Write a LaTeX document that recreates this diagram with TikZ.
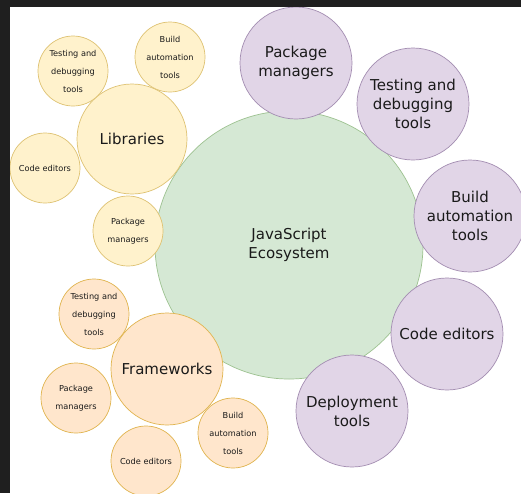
\documentclass[tikz,border=0pt]{standalone}
\usepackage{fontspec}
\setmainfont{DejaVu Sans}
\definecolor{bandc}{HTML}{1F1F1F}
\definecolor{txt}{HTML}{1A1A1A}
\definecolor{gfill}{HTML}{D5E8D4}\definecolor{gline}{HTML}{9DC290}
\definecolor{pfill}{HTML}{E1D5E7}\definecolor{pline}{HTML}{A38DB1}
\definecolor{yfill}{HTML}{FFF2CC}\definecolor{yline}{HTML}{DEC272}
\definecolor{ofill}{HTML}{FFE6CC}\definecolor{oline}{HTML}{E0B44E}
\tikzset{
  bub/.style={circle, inner sep=0pt, align=center, text=txt, line width=0.7pt},
  bigtext/.style={font=\fontsize{15}{19}\selectfont},
  smalltext/.style={font=\fontsize{8.2}{18}\selectfont},
  eco/.style={bub, fill=gfill, draw=gline, minimum size=268pt, bigtext},
  purp/.style={bub, fill=pfill, draw=pline, minimum size=112pt, bigtext},
  libbig/.style={bub, fill=yfill, draw=yline, minimum size=110pt, bigtext},
  libsmall/.style={bub, fill=yfill, draw=yline, minimum size=70pt, smalltext},
  frbig/.style={bub, fill=ofill, draw=oline, minimum size=112pt, bigtext},
  frsmall/.style={bub, fill=ofill, draw=oline, minimum size=70pt, smalltext}
}
\begin{document}
\begin{tikzpicture}[x=1pt,y=-1pt]
\useasboundingbox (0,0) rectangle (521,493);
\clip (0,0) rectangle (521,493);
\fill[white] (0,0) rectangle (521,493);

\node[eco] (js) at (289,245) {JavaScript\\Ecosystem};

\node[purp] (ppm) at (296,63) {Package\\managers};
\node[purp] (ptd) at (413,104) {Testing and\\debugging\\tools};
\node[purp] (pba) at (470,216) {Build\\automation\\tools};
\node[purp] (pce) at (447,334) {Code editors};
\node[purp] (pdt) at (352,411) {Deployment\\tools};

\node[libbig] (lib) at (132,139) {Libraries};
\node[libsmall] (ltd) at (73,71) {Testing and\\debugging\\tools};
\node[libsmall] (lba) at (170,57) {Build\\automation\\tools};
\node[libsmall] (lce) at (45,168) {Code editors};
\node[libsmall] (lpm) at (128,231) {Package\\managers};

\node[frbig] (fr) at (167,369) {Frameworks};
\node[frsmall] (ftd) at (94,314) {Testing and\\debugging\\tools};
\node[frsmall] (fpm) at (76,398) {Package\\managers};
\node[frsmall] (fce) at (146,461) {Code editors};
\node[frsmall] (fba) at (233,433) {Build\\automation\\tools};

\fill[bandc] (0,0) rectangle (521,7);
\fill[bandc] (0,0) rectangle (10,493);
\end{tikzpicture}
\end{document}
